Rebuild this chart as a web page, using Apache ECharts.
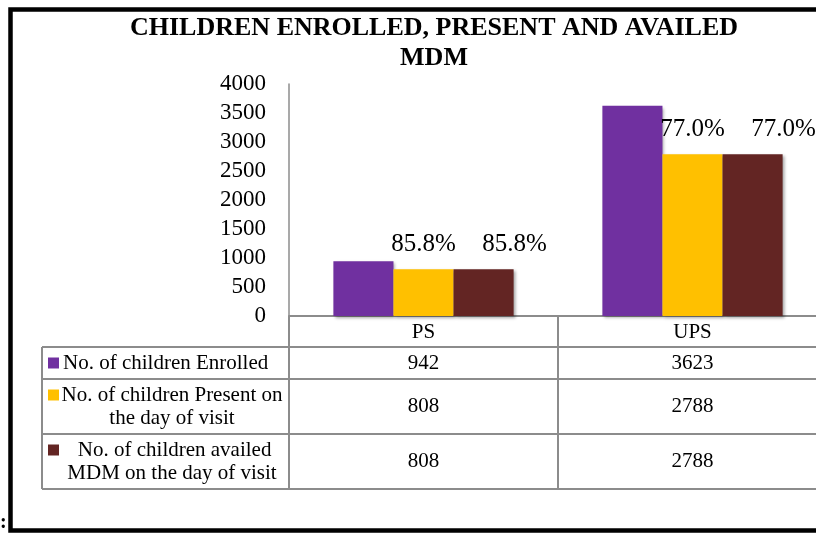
<!DOCTYPE html>
<html><head><meta charset="utf-8">
<script src="https://cdn.jsdelivr.net/npm/echarts@6/dist/echarts.min.js"></script>
<style>html,body{margin:0;padding:0;background:#fff;overflow:hidden}#c{width:840px;height:534px}</style>
</head><body><div id="c"></div>
<script>
// ---- data ----
const titleLines = ['CHILDREN ENROLLED, PRESENT AND AVAILED', 'MDM'];
const categories = ['PS', 'UPS'];
const seriesNames = ['No. of children Enrolled', 'No. of children Present on the day of visit', 'No. of children availed MDM on the day of visit'];
const tableLabels = [['No. of children Enrolled'], ['No. of children Present on', 'the day of visit'], [' No. of children availed', 'MDM on the day of visit']];
const enrolled = [942, 3623];
const present = [808, 2788];
const availed = [808, 2788];
const presentPct = ['85.8%', '77.0%'];
const availedPct = ['85.8%', '77.0%'];
const yMin = 0, yMax = 4000, yStep = 500;

const colors = ['#7030A0', '#FFC000', '#632523'];
const serif = '"Liberation Serif", "Times New Roman", serif';
const gridLine = '#8c8c8c';

const chart = echarts.init(document.getElementById('c'), null, {renderer: 'canvas'});
const barShadow = {shadowBlur: 3, shadowOffsetX: 2, shadowOffsetY: 2, shadowColor: 'rgba(0,0,0,0.35)'};
const lblStyle = {show: true, position: 'top', distance: 12, fontSize: 25, fontFamily: serif, color: '#000'};

chart.setOption({
  animation: false,
  backgroundColor: '#fff',
  title: {
    text: titleLines.join('\n'), left: 434, top: 13, textAlign: 'center', padding: 0,
    textStyle: {fontFamily: serif, fontWeight: 'bold', fontSize: 26, lineHeight: 30, color: '#000'}
  },
  grid: {left: 289, top: 84, width: 538, height: 232, containLabel: false},
  xAxis: {
    type: 'category', data: categories,
    axisLine: {lineStyle: {color: gridLine, width: 2}},
    axisTick: {show: false},
    axisLabel: {fontSize: 21, fontFamily: serif, color: '#000', margin: 6}
  },
  yAxis: {
    type: 'value', min: yMin, max: yMax, interval: yStep,
    axisLine: {show: true, lineStyle: {color: gridLine, width: 1.5}},
    axisTick: {show: false}, splitLine: {show: false},
    axisLabel: {fontSize: 23, fontFamily: serif, color: '#000', margin: 23, formatter: v => String(v)}
  },
  series: [
    {name: seriesNames[0], type: 'bar', data: enrolled, barGap: '0%', barCategoryGap: '33%', itemStyle: Object.assign({color: colors[0]}, barShadow)},
    {name: seriesNames[1], type: 'bar', data: present, itemStyle: Object.assign({color: colors[1]}, barShadow),
      label: Object.assign({}, lblStyle, {formatter: p => presentPct[p.dataIndex]})},
    {name: seriesNames[2], type: 'bar', data: availed, itemStyle: Object.assign({color: colors[2]}, barShadow),
      label: Object.assign({}, lblStyle, {offset: [31, 0], formatter: p => availedPct[p.dataIndex]})}
  ]
});

// ---- data table below the axis ----
const c0 = chart.convertToPixel({xAxisIndex: 0}, categories[0]);
const c1 = chart.convertToPixel({xAxisIndex: 0}, categories[1]);
const band = c1 - c0;
const colEdges = [c0 - band / 2, c0 + band / 2, c1 + band / 2];
const y0 = chart.convertToPixel({yAxisIndex: 0}, 0);
const rowEdges = [y0, y0 + 31, y0 + 63, y0 + 118, y0 + 173];
const tableLeft = 42;
const rowsValues = [enrolled, present, availed];
const g = [];
const line = (x1, y1, x2, y2) => g.push({type: 'line', shape: {x1, y1, x2, y2}, style: {stroke: gridLine, lineWidth: 2}, silent: true});
for (let r = 1; r < rowEdges.length; r++) line(tableLeft, rowEdges[r], colEdges[2], rowEdges[r]);
line(tableLeft, rowEdges[1], tableLeft, rowEdges[4]);
colEdges.forEach(x => line(x, y0, x, rowEdges[4]));
// rows
for (let r = 0; r < 3; r++) {
  const top = rowEdges[r + 1], bot = rowEdges[r + 2], mid = (top + bot) / 2;
  const lines = tableLabels[r];
  const lh = 23;
  const firstY = mid - (lines.length - 1) * lh / 2;
  g.push({type: 'rect', shape: {x: 48, y: firstY - 5.5, width: 11, height: 11}, style: {fill: colors[r]}, silent: true});
  lines.forEach((t, i) => {
    const single = lines.length === 1;
    g.push({type: 'text', x: single ? 63 : 172, y: firstY + i * lh,
      style: {text: t, fontSize: 21, fontFamily: serif, fill: '#000', align: single ? 'left' : 'center', verticalAlign: 'middle'}, silent: true});
  });
  rowsValues[r].forEach((v, ci) => {
    const cx = chart.convertToPixel({xAxisIndex: 0}, categories[ci]);
    g.push({type: 'text', x: cx, y: mid, style: {text: String(v), fontSize: 21, fontFamily: serif, fill: '#000', align: 'center', verticalAlign: 'middle'}, silent: true});
  });
}
// outer frame and stray colon
g.push({type: 'rect', shape: {x: 10.5, y: 9.5, width: 850, height: 521}, style: {fill: 'none', stroke: '#000', lineWidth: 4.5}, silent: true});
g.push({type: 'text', x: 0, y: 523, style: {text: ':', fontSize: 20, fontWeight: 'bold', fontFamily: serif, fill: '#000', verticalAlign: 'middle'}, silent: true});
chart.setOption({graphic: g});
</script>
</body></html>
